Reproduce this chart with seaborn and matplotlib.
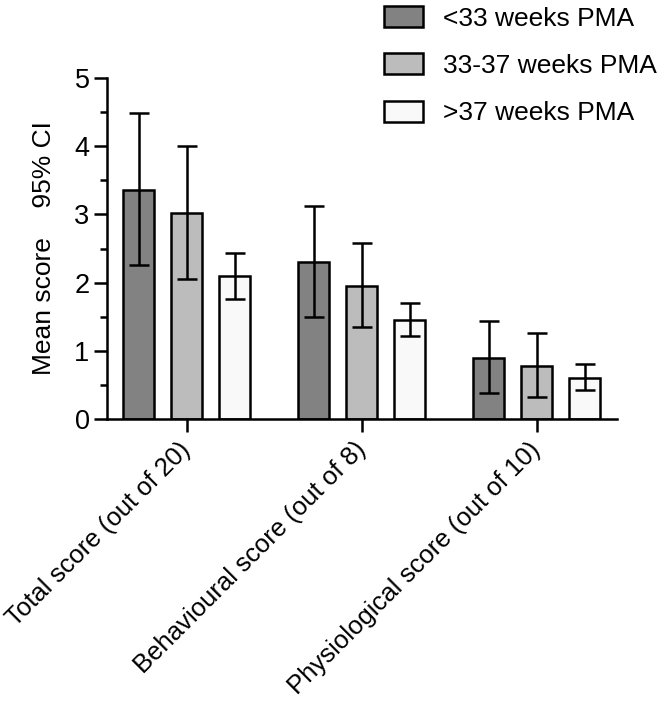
import numpy as np
import pandas as pd
import seaborn as sns
import matplotlib
matplotlib.use('Agg')
import matplotlib.pyplot as plt
from matplotlib.ticker import MultipleLocator

# данные
categories = ['Total score (out of 20)', 'Behavioural score (out of 8)', 'Physiological score (out of 10)']
groups = ['<33 weeks PMA', '33-37 weeks PMA', '>37 weeks PMA']
mean_lt33 = [3.36, 2.30, 0.90]
mean_33_37 = [3.02, 1.95, 0.78]
mean_gt37 = [2.09, 1.45, 0.60]
ci_low_lt33 = [2.26, 1.50, 0.38]
ci_high_lt33 = [4.48, 3.13, 1.44]
ci_low_33_37 = [2.05, 1.35, 0.32]
ci_high_33_37 = [4.00, 2.58, 1.26]
ci_low_gt37 = [1.76, 1.22, 0.43]
ci_high_gt37 = [2.44, 1.70, 0.80]
colors = ['#828282', '#bcbcbc', '#f9f9f9']

df = pd.DataFrame({
    'cat': categories * 3,
    'grp': [groups[0]] * 3 + [groups[1]] * 3 + [groups[2]] * 3,
    'mean': mean_lt33 + mean_33_37 + mean_gt37,
    'lo': ci_low_lt33 + ci_low_33_37 + ci_low_gt37,
    'hi': ci_high_lt33 + ci_high_33_37 + ci_high_gt37,
})

sns.set_style('ticks')
plt.rcParams['font.family'] = ['Liberation Sans', 'DejaVu Sans']
plt.rcParams.update({'text.color': 'black', 'axes.labelcolor': 'black',
                     'xtick.color': 'black', 'ytick.color': 'black', 'axes.edgecolor': 'black'})

fig = plt.figure(figsize=(6.64, 7.06), dpi=100)
ax = fig.add_axes([0.161, 0.4065, 0.768, 0.483])

sns.barplot(data=df, x='cat', y='mean', hue='grp', order=categories, hue_order=groups,
            palette=colors, errorbar=None, width=0.823, gap=0.354,
            edgecolor='black', linewidth=1.8, ax=ax, legend=True)

# доверительные интервалы
for container, g in zip(ax.containers, groups):
    sub = df[df.grp == g].set_index('cat').loc[categories]
    xs = [p.get_x() + p.get_width() / 2 for p in container.patches]
    ax.errorbar(xs, sub['mean'], yerr=[sub['mean'] - sub['lo'], sub['hi'] - sub['mean']],
                fmt='none', ecolor='black', elinewidth=1.8, capsize=7.5, capthick=1.8, zorder=5)

ax.set_xlim(-0.457, 2.457)
ax.set_ylim(0, 5)
ax.yaxis.set_major_locator(MultipleLocator(1))
ax.yaxis.set_minor_locator(MultipleLocator(0.5))
sns.despine(ax=ax)
for s in ['left', 'bottom']:
    ax.spines[s].set_linewidth(1.8)
ax.tick_params(axis='y', which='major', length=9.5, width=1.8, labelsize=19.5, pad=3)
ax.tick_params(axis='x', which='major', length=9.5, width=1.8, labelsize=18.5, pad=10)
ax.tick_params(axis='y', which='minor', length=5, width=1.8)
ax.set_xlabel('')
ax.set_ylabel('Mean score    95% CI', fontsize=19)
ax.yaxis.set_label_coords(-0.10, 0.5)
plt.setp(ax.get_xticklabels(), rotation=45, ha='right', va='center', rotation_mode='anchor')

handles, labels = ax.get_legend_handles_labels()
ax.get_legend().remove()
fig.legend(handles, labels, loc='upper left', bbox_to_anchor=(0.542, 1.025), frameon=False,
           fontsize=19, handlelength=1.5, handleheight=0.85, labelspacing=0.86, handletextpad=0.75)

fig.savefig('out.png', dpi=100)
